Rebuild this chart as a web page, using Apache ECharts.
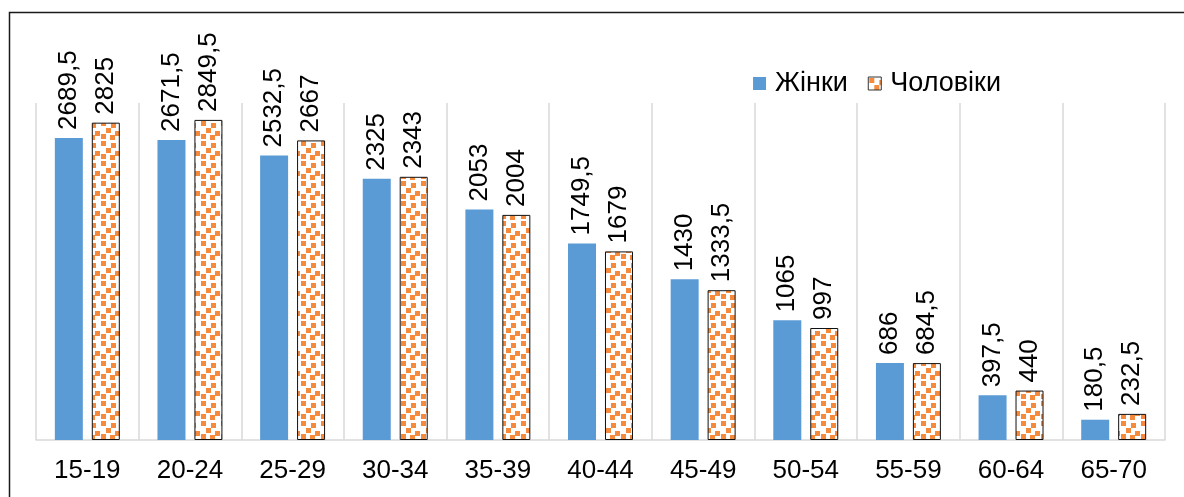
<!DOCTYPE html>
<html>
<head>
<meta charset="utf-8">
<script src="https://cdn.jsdelivr.net/npm/echarts@6/dist/echarts.min.js"></script>
<style>
html,body{margin:0;padding:0;background:#fff;}
#c{width:1184px;height:497px;}
</style>
</head>
<body>
<div id="c"></div>
<script>
var categories = ['15-19','20-24','25-29','30-34','35-39','40-44','45-49','50-54','55-59','60-64','65-70'];
var women = [2689.5, 2671.5, 2532.5, 2325, 2053, 1749.5, 1430, 1065, 686, 397.5, 180.5];
var men = [2825, 2849.5, 2667, 2343, 2004, 1679, 1333.5, 997, 684.5, 440, 232.5];
var seriesNames = ['Жінки', 'Чоловіки'];

var FONT = "'Liberation Sans Narrow', 'Arial Narrow', 'Liberation Sans', Arial, sans-serif";

function makePattern() {
  var c = document.createElement('canvas');
  c.width = 20; c.height = 20;
  var g = c.getContext('2d');
  g.fillStyle = '#ffffff';
  g.fillRect(0, 0, 20, 20);
  g.fillStyle = '#F5893C';
  var sq = [[1,1],[11,3],[6,8],[15,11],[1,14],[10,15]];
  sq.forEach(function(p){ g.fillRect(p[0], p[1], 5, 5); });
  return c;
}
var pat = makePattern();

var chart = echarts.init(document.getElementById('c'), null, {renderer: 'canvas'});
function fmt(p){ return String(p.value).replace('.', ','); }
var labelCfg = {
  show: true, position: 'top', rotate: 90, align: 'left', verticalAlign: 'middle',
  distance: 8, formatter: fmt, fontFamily: FONT, fontSize: 26, color: '#000'
};
chart.setOption({
  animation: false,
  graphic: [{
    type: 'rect', left: 7, top: 10, silent: true,
    shape: {width: 1250, height: 560},
    style: {fill: 'none', stroke: '#1a1a1a', lineWidth: 1.5}
  }],
  legend: {
    right: 178, top: 65, itemWidth: 13, itemHeight: 13, itemGap: 20,
    textStyle: {fontFamily: FONT, fontSize: 27, color: '#000', padding: [0,0,0,4]},
    data: [
      {name: seriesNames[0], icon: 'rect'},
      {name: seriesNames[1], icon: 'rect', itemStyle: {color: {image: pat, repeat: 'repeat'}, borderColor: '#333', borderWidth: 1}}
    ]
  },
  grid: {left: 36, right: 19, top: 103, bottom: 57, containLabel: false},
  xAxis: {
    type: 'category', data: categories,
    axisLine: {show: true, lineStyle: {color: '#d9d9d9', width: 1.5}},
    axisTick: {show: false},
    splitLine: {show: true, lineStyle: {color: '#d9d9d9', width: 1.5}},
    axisLabel: {fontFamily: FONT, fontSize: 26, color: '#000', margin: 18}
  },
  yAxis: {type: 'value', min: 0, max: 3000, show: false, splitLine: {show: false}},
  series: [
    {
      name: seriesNames[0], type: 'bar', data: women, barWidth: 28, barGap: '32%',
      itemStyle: {color: '#5B9BD5'}, label: labelCfg
    },
    {
      name: seriesNames[1], type: 'bar', data: men, barWidth: 28,
      itemStyle: {color: {image: pat, repeat: 'repeat'}, borderColor: '#111', borderWidth: 1},
      label: labelCfg
    }
  ]
});
</script>
</body>
</html>
